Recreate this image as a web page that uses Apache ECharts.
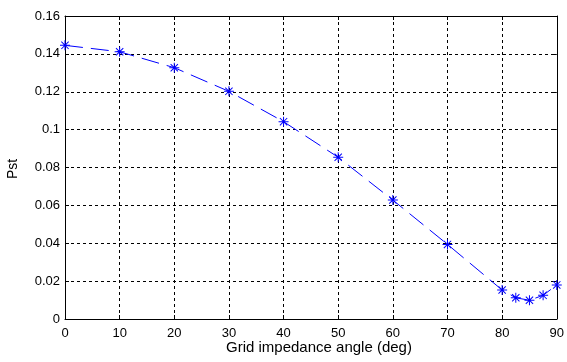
<!DOCTYPE html>
<html>
<head>
<meta charset="utf-8">
<script src="https://cdn.jsdelivr.net/npm/echarts@6/dist/echarts.min.js"></script>
<style>html,body{margin:0;padding:0;background:#fff;}#c{width:567px;height:362px;}</style>
</head>
<body>
<div id="c"></div>
<script>
const angles = [0, 10, 20, 30, 40, 50, 60, 70, 80, 82.5, 85, 87.5, 90];
const pst = [0.1445, 0.1411, 0.1327, 0.1202, 0.1042, 0.0854, 0.0628, 0.0394, 0.0153, 0.0112, 0.0099, 0.0125, 0.0180];
const xTitle = 'Grid impedance angle (deg)';
const yTitle = 'Pst';

const font = 'Arial, "Liberation Sans", sans-serif';
const star = 'path://M0 4.5L10 4.5L10 5.5L0 5.5Z M4.5 0L5.5 0L5.5 10L4.5 10Z M1 1.7L1.7 1L9 8.3L8.3 9Z M8.3 1L9 1.7L1.7 9L1 8.3Z';

const chart = echarts.init(document.getElementById('c'));
const gridLine = {show: true, lineStyle: {color: '#000', type: [3, 3], width: 1}};
const frameLine = {show: true, onZero: false, lineStyle: {color: '#000', width: 1}};
const inTick = {show: true, inside: true, length: 4, lineStyle: {color: '#000'}};
chart.setOption({
  animation: false,
  backgroundColor: '#fff',
  grid: {left: 65, right: 7, top: 16, bottom: 43, containLabel: false},
  xAxis: [{
    type: 'value', min: 0, max: 90, interval: 10, position: 'bottom',
    axisLine: frameLine, axisTick: inTick,
    axisLabel: {color: '#000', fontFamily: font, fontSize: 13, margin: 8},
    splitLine: gridLine
  }, {
    type: 'value', min: 0, max: 90, interval: 10, position: 'top',
    axisLine: frameLine, axisTick: inTick,
    axisLabel: {show: false}, splitLine: {show: false}
  }],
  yAxis: [{
    type: 'value', min: 0, max: 0.16, interval: 0.02, position: 'left',
    axisLine: frameLine, axisTick: inTick,
    axisLabel: {color: '#000', fontFamily: font, fontSize: 13, margin: 5},
    splitLine: gridLine
  }, {
    type: 'value', min: 0, max: 0.16, interval: 0.02, position: 'right',
    axisLine: frameLine, axisTick: inTick,
    axisLabel: {show: false}, splitLine: {show: false}
  }],
  graphic: [
    {type: 'text', left: 226, top: 340, style: {text: xTitle, font: '15px ' + font, fill: '#000'}},
    {type: 'text', rotation: Math.PI / 2, x: 6, y: 179, style: {text: yTitle, font: '14px ' + font, fill: '#000'}}
  ],
  series: [{
    type: 'line',
    data: angles.map((a, i) => [a, pst[i]]),
    xAxisIndex: 0, yAxisIndex: 0,
    lineStyle: {color: '#0000ff', width: 1, type: [18, 8]},
    itemStyle: {color: '#0000ff'},
    symbol: star, symbolSize: 10,
    clip: false
  }]
});
</script>
</body>
</html>
